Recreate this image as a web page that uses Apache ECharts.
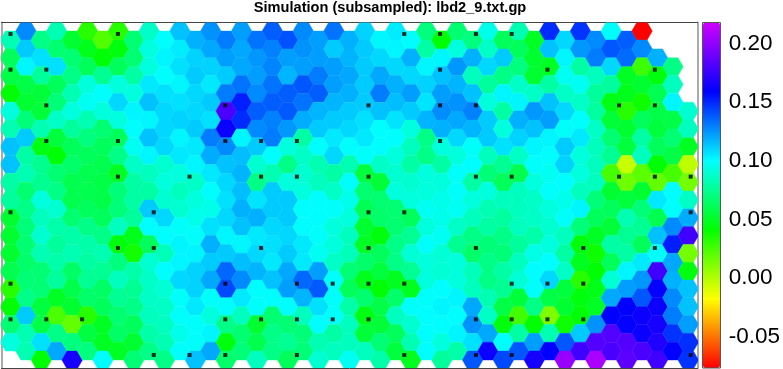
<!DOCTYPE html>
<html>
<head>
<meta charset="utf-8">
<style>
  html, body { margin: 0; padding: 0; background: #fff; }
  #chart { width: 783px; height: 369px; }
</style>
<script src="https://cdn.jsdelivr.net/npm/echarts@6/dist/echarts.min.js"></script>
</head>
<body>
<div id="chart"></div>
<script>
const titleText = 'Simulation (subsampled): lbd2_9.txt.gp'
const colorTicks = [-0.05, 0, 0.05, 0.10, 0.15, 0.20]
const colorMin = -0.079
const colorMax = 0.2158
const rainbow = ['#ff0000', '#ffff00', '#00ff00', '#00ffff', '#0000ff', '#d000ff']

// one list per hex column, top to bottom, null where the cell is empty
const c0 = [.08,.06,.055,.04,.09,.08,.112,.112,.077,.075,.05,.05,.05,.057,.03,.04,.065,.09,null]
const c1 = [.125,.11,.10,.055,.05,.067,.11,.077,.08,.065,.07,.067,.065,.063,.066,.07,.11,.08,.08]
const c2 = [.07,.105,.075,.052,.052,.08,.043,.072,.073,.09,.083,.087,.08,.066,.066,.053,.055,.105,.04]
const c3 = [.08,.065,.105,.06,.067,.085,.053,.04,.065,.07,.087,.078,.075,.078,.075,.047,.022,.07,.118]
const c4 = [.05,.065,.07,.08,.09,.075,.06,.063,.057,.057,.065,.078,.08,.062,.056,.05,.016,.068,.163]
const c5 = [.03,.045,.06,.09,.095,.08,.068,.06,.057,.057,.06,.07,.078,.076,.073,.063,.03,.054,.068]
const c6 = [.02,.04,.073,.097,.09,.065,.06,.057,.055,.055,.06,.07,.08,.073,.062,.06,.047,.047,.098]
const c7 = [.03,.042,.06,.09,.107,.09,.06,.07,.047,.067,.067,.083,.042,.068,.083,.073,.065,.062,.047]
const c8 = [.065,.065,.077,.09,.10,.098,.095,.085,.077,.077,.075,.045,.035,.078,.073,.07,.06,.05,.066]
const c9 = [.085,.09,.09,.103,.112,.10,.112,.10,.083,.077,.11,.098,.06,.087,.085,.085,.083,.078,.07]
const c10 = [.098,.10,.098,.105,.107,.107,.107,.087,.09,.087,.107,.098,.082,.098,.088,.085,.083,.08,.07]
const c11 = [.112,.102,.105,.10,.105,.108,.10,.103,.09,.083,.087,.097,.10,.10,.107,.097,.097,.093,.097]
const c12 = [.116,.108,.11,.107,.107,.11,.103,.10,.085,.09,.093,.097,.10,.108,.108,.103,.097,.097,.112]
const c13 = [.123,.118,.108,.103,.11,.105,.128,.117,.103,.098,.093,.105,.116,.11,.118,.097,.09,.10,.118]
const c14 = [.128,.12,.11,.128,.178,.16,.125,.112,.107,.105,.107,.10,.11,.133,.14,.098,.07,.042,.063]
const c15 = [.12,.118,.118,.13,.15,.147,.10,.113,.115,.113,.116,.112,.10,.113,.125,.103,.083,.065,.067]
const c16 = [.13,.122,.12,.125,.135,.125,.11,.087,.07,.104,.116,.103,.107,.115,.098,.097,.05,.057,.083]
const c17 = [.135,.127,.126,.13,.135,.127,.128,.098,.08,.11,.11,.107,.105,.103,.112,.098,.065,.07,.07]
const c18 = [.138,.12,.115,.135,.136,.122,.09,.07,.09,.11,.11,.107,.11,.118,.12,.098,.066,.073,.06]
const c19 = [.125,.123,.12,.137,.13,.117,.077,.085,.087,.09,.098,.098,.103,.103,.133,.115,.083,.067,.067]
const c20 = [.12,.12,.128,.135,.115,.11,.098,.08,.083,.098,.098,.097,.095,.12,.136,.105,.098,.08,.087]
const c21 = [.13,.11,.12,.12,.115,.11,.103,.107,.077,.085,.097,.09,.09,.085,.097,.097,.097,.077,.083]
const c22 = [.116,.115,.118,.116,.11,.107,.098,.08,.097,.093,.09,.083,.082,.066,.06,.078,.083,.083,.095]
const c23 = [.108,.11,.11,.11,.11,.105,.103,.097,.053,.065,.058,.05,.047,.063,.045,.064,.043,.052,.083]
const c24 = [.10,.107,.118,.128,.112,.098,.098,.085,.052,.065,.063,.042,.06,.053,.04,.055,.052,.066,.078]
const c25 = [.102,.10,.107,.116,.113,.104,.098,.09,.087,.09,.065,.065,.07,.07,.046,.063,.083,.06,.053]
const c26 = [.098,.116,.107,.12,.11,.09,.083,.077,.087,.09,.06,.073,.088,.073,.046,.097,.087,.08,.046]
const c27 = [.068,.077,.10,.108,.104,.115,.07,.07,.09,.09,.095,.09,.097,.09,.09,.097,.098,.098,.098]
const c28 = [.04,.10,.112,.12,.124,.116,.09,.077,.09,.093,.093,.095,.088,.088,.098,.10,.098,.09,.075]
const c29 = [.065,.09,.122,.115,.123,.118,.107,.09,.097,.097,.095,.085,.073,.09,.09,.10,.098,.10,.078]
const c30 = [.068,.116,.083,.112,.127,.115,.097,.098,.077,.09,.083,.07,.063,.082,.083,.118,.123,.105,.137]
const c31 = [.093,.085,.107,.075,.09,.11,.11,.083,.067,.09,.08,.077,.067,.07,.07,.08,.085,.118,.16]
const c32 = [.06,.11,.07,.10,.077,.09,.105,.073,.06,.083,.076,.07,.067,.077,.073,.055,.042,.098,.14]
const c33 = [.08,.06,.068,.085,.10,.116,.108,.085,.057,.083,.083,.083,.075,.083,.088,.052,.024,.077,.137]
const c34 = [.047,.05,.05,.085,.122,.112,.10,.097,.09,.085,.085,.078,.092,.098,.097,.07,.04,.12,.163]
const c35 = [.147,.112,.047,.077,.112,.12,.10,.098,.095,.097,.09,.087,.09,.098,.107,.055,.01,.08,.157]
const c36 = [.107,.10,.095,.085,.107,.097,.11,.108,.098,.093,.097,.083,.077,.085,.053,.05,.036,.137,.20]
const c37 = [.145,.122,.077,.095,.085,.098,.103,.09,.09,.083,.10,.067,.042,.046,.03,.042,.04,.11,.175]
const c38 = [.125,.128,.083,.075,.076,.085,.083,.083,.083,.067,.06,.047,.036,.04,.044,.047,.123,.18,.205]
const c39 = [.098,.137,.107,.075,.043,.052,.065,.073,.023,.05,.06,.052,.077,.06,.088,.118,.157,.18,.178]
const c40 = [.135,.132,.047,.045,.03,.05,.053,-.007,.013,.053,.08,.073,.077,.10,.12,.157,.158,.18,.183]
const c41 = [-.079,.125,.025,.05,.036,.06,.077,.083,.018,.05,.067,.073,.06,.103,.122,.137,.16,.16,.178]
const c42 = [null,.116,.042,.058,.055,.053,.06,.04,.016,.103,.057,.112,.097,.175,.158,.16,.163,.166,.175]
const c43 = [null,null,.07,.083,.10,.055,.065,.055,.023,.098,.098,.125,.15,.118,.116,.125,.128,.145,.157]
const c44 = [null,null,null,null,.087,.083,.047,-.005,.012,.085,.117,.175,.012,.042,.112,.112,.12,.146,.145]

const hexColumns = [c0,c1,c2,c3,c4,c5,c6,c7,c8,c9,c10,c11,c12,c13,c14,c15,c16,c17,c18,c19,c20,c21,c22,
  c23,c24,c25,c26,c27,c28,c29,c30,c31,c32,c33,c34,c35,c36,c37,c38,c39,c40,c41,c42,c43,c44]

// subsampled points, one list of sample columns per sample row
const sampleRows = [
  [0, 3, 11, 12, 13, 14],
  [0, 1, 12, 15, 18],
  [1, 6, 10, 12, 13, 17, 18],
  [1, 3, 6, 7, 8, 12],
  [3, 5, 7, 8, 10, 13, 14, 17, 18, 19],
  [0, 4, 10, 11, 19],
  [3, 4, 7, 10, 13, 16, 18],
  [0, 6, 8, 9, 10, 11, 14, 15, 16],
  [0, 1, 2, 6, 7, 8, 9, 10, 13, 14, 15, 16],
  [4, 5, 6, 8, 11, 13, 14, 19]
]
const sampleStep = 2.324
const sampleRowStep = 2.006
const sampleRowStart = -0.337

const hexData = []
hexColumns.forEach(function(col, c) {
  col.forEach(function(v, k) {
    if (v !== null) {
      hexData.push([c, c % 2 === 0 ? k : k - 0.5, v])
    }
  })
})
const sampleData = []
sampleRows.forEach(function(row, j) {
  row.forEach(function(i) {
    sampleData.push([i * sampleStep, sampleRowStart + j * sampleRowStep])
  })
})

function renderHex(params, api) {
  const p = api.coord([api.value(0), api.value(1)])
  const s = api.size([1, 1])
  const w = s[0] / 3
  const h = s[1] / 2
  const fill = api.visual('color')
  return {
    type: 'polygon',
    shape: {
      points: [
        [p[0] - 2 * w, p[1]], [p[0] - w, p[1] - h], [p[0] + w, p[1] - h],
        [p[0] + 2 * w, p[1]], [p[0] + w, p[1] + h], [p[0] - w, p[1] + h]
      ]
    },
    style: { fill: fill, stroke: fill, lineWidth: 0.4 }
  }
}

const xRange = { min: -0.586, max: 44.6 }
const yRange = { min: -0.984, max: 18.45 }
const blank = { axisTick: { show: false }, axisLabel: { show: false }, splitLine: { show: false } }

const chart = echarts.init(document.getElementById('chart'), null, { renderer: 'canvas' })
chart.setOption({
  animation: false,
  backgroundColor: '#fff',
  textStyle: { fontFamily: 'Liberation Sans' },
  title: {
    text: titleText,
    left: 390,
    top: 0,
    textAlign: 'center',
    padding: 0,
    textStyle: { fontSize: 14.6, fontWeight: 'bold', color: '#000', fontFamily: 'Liberation Sans' }
  },
  grid: [
    { left: 1.5, top: 22.5, width: 696, height: 345.5, containLabel: false },
    { left: 703, top: 22.5, width: 17, height: 345.5, containLabel: false }
  ],
  xAxis: [
    Object.assign({ type: 'value', gridIndex: 0, position: 'bottom', axisLine: { show: true, onZero: false, lineStyle: { color: '#444', width: 1 } } }, xRange, blank),
    Object.assign({ type: 'value', gridIndex: 0, position: 'top', axisLine: { show: true, onZero: false, lineStyle: { color: '#444', width: 1 } } }, xRange, blank),
    { type: 'value', gridIndex: 1, min: 0, max: 1, show: false }
  ],
  yAxis: [
    Object.assign({ type: 'value', gridIndex: 0, inverse: true, position: 'left', axisLine: { show: true, onZero: false, lineStyle: { color: '#aaa', width: 2 } } }, yRange, blank),
    Object.assign({ type: 'value', gridIndex: 0, inverse: true, position: 'right', axisLine: { show: true, onZero: false, lineStyle: { color: '#aaa', width: 2 } } }, yRange, blank),
    {
      type: 'value',
      gridIndex: 1,
      position: 'right',
      min: colorMin,
      max: colorMax,
      splitLine: { show: false },
      axisLine: { show: false },
      axisTick: { show: true, length: 5, lineStyle: { color: '#666' }, customValues: colorTicks },
      axisLabel: {
        show: true,
        margin: 10,
        color: '#000',
        customValues: colorTicks,
        formatter: function(v) { return '{v|' + v.toFixed(2) + '}' },
        rich: {
          v: { fontSize: 22.5, color: '#000', fontFamily: 'Liberation Sans', padding: [5, 0, 0, 0] }
        }
      }
    }
  ],
  visualMap: {
    type: 'continuous',
    seriesIndex: 0,
    dimension: 2,
    min: colorMin,
    max: colorMax,
    calculable: false,
    hoverLink: false,
    realtime: false,
    left: 703,
    top: 22.5,
    padding: 0,
    itemWidth: 17,
    itemHeight: 345.5,
    text: null,
    showLabel: false,
    inRange: { color: rainbow }
  },
  series: [
    {
      type: 'custom',
      coordinateSystem: 'cartesian2d',
      xAxisIndex: 0,
      yAxisIndex: 0,
      clip: true,
      renderItem: renderHex,
      encode: { x: 0, y: 1 },
      data: hexData,
      silent: true
    },
    {
      type: 'scatter',
      xAxisIndex: 0,
      yAxisIndex: 0,
      symbol: 'rect',
      symbolSize: 4,
      itemStyle: { color: '#000' },
      data: sampleData,
      silent: true,
      z: 5
    }
  ],
  graphic: [
    {
      type: 'rect',
      shape: { x: 702.5, y: 22.5, width: 18, height: 345.5 },
      style: { fill: 'none', stroke: '#555', lineWidth: 1 },
      z: 100,
      silent: true
    }
  ]
})
</script>
</body>
</html>
